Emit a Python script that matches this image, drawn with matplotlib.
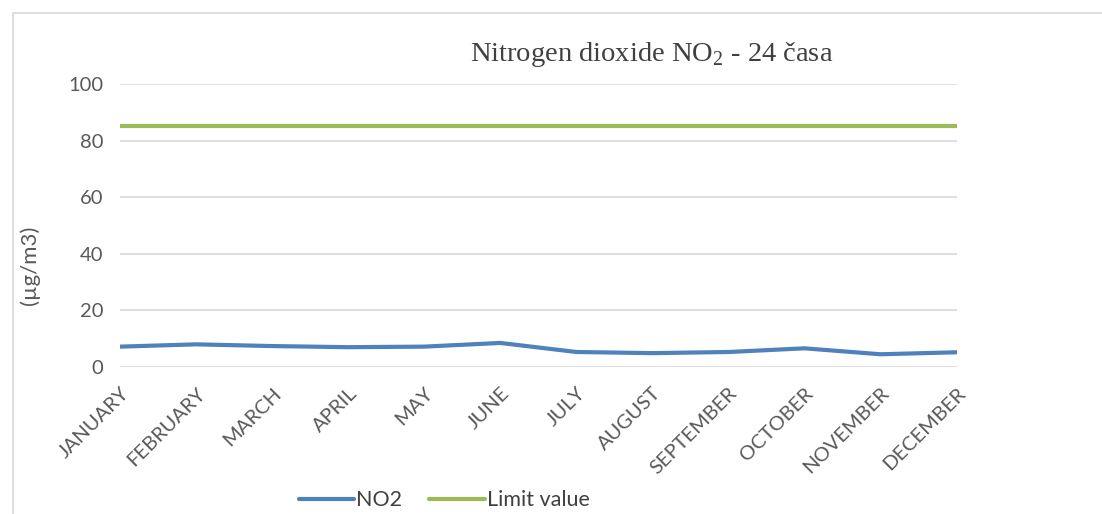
import numpy as np
import matplotlib
matplotlib.use("Agg")
import matplotlib.pyplot as plt
import matplotlib.transforms as mtransforms
from matplotlib.patches import Rectangle

plt.rcParams["mathtext.fontset"] = "custom"
plt.rcParams["mathtext.rm"] = "Liberation Serif"

months = ["JANUARY", "FEBRUARY", "MARCH", "APRIL", "MAY", "JUNE", "JULY",
          "AUGUST", "SEPTEMBER", "OCTOBER", "NOVEMBER", "DECEMBER"]
no2 = [7.2, 8.0, 7.4, 7.0, 7.2, 8.5, 5.3, 4.9, 5.3, 6.6, 4.5, 5.2]
limit = [85] * 12
yticks = [0, 20, 40, 60, 80, 100]

fig = plt.figure(figsize=(11.02, 5.14), dpi=100)
ax = fig.add_axes([0.109, 0.286, 0.759, 0.5505])

# outer chart frame
fig.patches.append(Rectangle((13 / 1102, -0.1), 1.2, 1 - 13 / 514 + 0.1,
                             transform=fig.transFigure, fill=False,
                             edgecolor="#d9d9d9", linewidth=1.2))

x = np.arange(len(months))
ax.plot(x, no2, color="#4F81BD", linewidth=3, solid_capstyle="round", label="NO2")
ax.plot(x, limit, color="#9BBB59", linewidth=3, solid_capstyle="round", label="Limit value")

ax.set_xlim(0, len(months) - 1)
ax.set_ylim(0, 100)
ax.set_yticks(yticks)
ax.grid(axis="y", color="#d9d9d9", linewidth=1.2)
ax.set_axisbelow(True)
for s in ax.spines.values():
    s.set_visible(False)
ax.tick_params(axis="y", length=0, labelsize=14.5, labelcolor="#595959", pad=12)
ax.tick_params(axis="x", length=0, labelsize=14.5, labelcolor="#595959", pad=17)
ax.set_xticks(x)
ax.set_xticklabels(months, rotation=45, ha="right", va="center", rotation_mode="anchor",
                   fontfamily="Lato")
shift = mtransforms.ScaledTranslation(6 / 100, 0, fig.dpi_scale_trans)
for t in ax.get_xticklabels():
    t.set_transform(t.get_transform() + shift)
for t in ax.get_yticklabels():
    t.set_fontfamily("Lato")

ax.set_ylabel("(µg/m3)", fontsize=16, color="#595959", fontfamily="Lato")
ax.yaxis.set_label_coords(-0.096, 0.36)

fig.text(0.591, 0.893, "Nitrogen dioxide NO$_2$ - 24 časa", ha="center", va="center",
         fontsize=20.5, color="#404040", fontfamily="Liberation Serif")

leg = fig.legend(loc="center", bbox_to_anchor=(0.403, 0.027), ncol=2, frameon=False,
                 prop={"family": "Lato", "size": 15.5}, handlelength=2.6,
                 handletextpad=0.08, columnspacing=1.25)
for t in leg.get_texts():
    t.set_color("#404040")

fig.savefig("out.png", dpi=100)
